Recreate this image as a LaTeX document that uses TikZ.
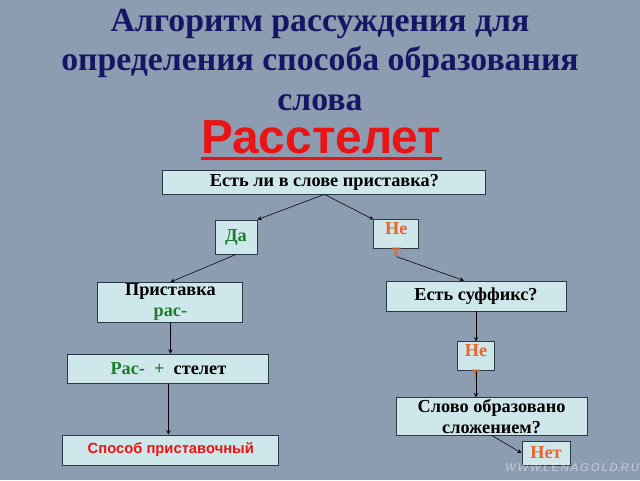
\documentclass[tikz,border=0pt]{standalone}
\usepackage{fontspec}
\setmainfont{Liberation Serif}
\setsansfont{Liberation Sans}
\usetikzlibrary{positioning}
\definecolor{bg}{RGB}{140,157,177}
\definecolor{boxfill}{RGB}{205,231,234}
\definecolor{boxline}{RGB}{45,55,65}
\definecolor{navy}{RGB}{22,22,100}
\definecolor{dagreen}{RGB}{30,125,45}
\definecolor{netorange}{RGB}{235,100,40}
\definecolor{wordred}{RGB}{235,20,20}
\tikzset{
  box/.style={draw=boxline,fill=boxfill,line width=0.6pt,inner sep=1pt,align=center,
    font=\bfseries\fontsize{13}{15}\selectfont},
  answer/.style={box,text=netorange},
}
\begin{document}
\begin{tikzpicture}[>=stealth]
  \useasboundingbox (0,0) rectangle (16,12);
  \fill[bg] (0,0) rectangle (16,12);

  \node [text=navy,align=center,font=\bfseries\fontsize{24}{28}\selectfont] (title) at (8,10.5)
    {Алгоритм рассуждения для\\определения способа образования\\слова};
  \node [text=wordred,inner sep=0pt,font=\sffamily\bfseries\fontsize{34}{38}\selectfont] (word) at (8.03,8.58) {Расстелет};
  \draw[wordred,line width=2pt] ([yshift=-4pt]word.base west) -- ([yshift=-4pt]word.base east);

  \node [box,minimum width=8.075cm,minimum height=0.6cm] (q1) at (8.11,7.45) {Есть ли в слове приставка?};
  \node [box,text=dagreen,minimum width=1.05cm,minimum height=0.85cm] (da) at (5.9,6.075) {Да};
  \node [box,minimum width=1.125cm,minimum height=0.725cm] (net1) at (9.91,6.14) {};
  \node [anchor=north,inner sep=0pt,align=center,text=netorange,
    font=\bfseries\fontsize{13}{15.5}\selectfont] (net1t) at ([yshift=-2pt]net1.north) {Не\\т};

  \node [box,minimum width=3.625cm,minimum height=0.875cm] (pr) at (4.26,4.44)
    {Приставка\\\textcolor{dagreen}{рас-}};
  \node [box,minimum width=4.5cm,minimum height=0.75cm] (suf) at (11.9,4.6) {Есть суффикс?};

  \node [box,minimum width=5.025cm,minimum height=0.725cm,below=0.775cm of pr,xshift=-0.05cm] (ras)
    {\textcolor{dagreen}{Рас-\ \ +}\ \ стелет};
  \node [box,minimum width=0.925cm,minimum height=0.725cm,below=0.75cm of suf] (net2) {};
  \node [anchor=north,inner sep=0pt,align=center,text=netorange,
    font=\bfseries\fontsize{13}{15.5}\selectfont] (net2t) at ([yshift=-2pt]net2.north) {Не\\т};

  \node [box,text=wordred,font=\sffamily\bfseries\fontsize{10.5}{12}\selectfont,
    minimum width=5.4cm,minimum height=0.75cm,below=1.275cm of ras,xshift=0.06cm] (sposob) {Способ приставочный};
  \node [box,minimum width=4.775cm,minimum height=0.875cm,below=0.65cm of net2,xshift=0.39cm] (slovo)
    {Слово образовано\\сложением?};
  \node [answer,minimum width=1.2cm,minimum height=0.6cm] (net3) at (13.65,0.675) {Нет};

  \node [text=white,opacity=0.5,inner sep=0pt,font=\sffamily\itshape\fontsize{8}{10}\selectfont] (mark) at (14.3,0.3)
    {W\,W\,W.L\,E\,N\,A\,G\,O\,L\,D.R\,U};

  \draw[->] (q1.south) -- (da.north east);
  \draw[->] (q1.south) -- (net1.north west);
  \draw[->] (da.south) -- (pr.north);
  \draw[->] (net1t.south) -- ([xshift=-0.3cm]suf.north);
  \draw[->] (pr.south) -- (pr.south |- ras.north);
  \draw[->] (ras.south) -- (ras.south |- sposob.north);
  \draw[->] (suf.south) -- (suf.south |- net2.north);
  \draw[->] (net2.south) -- (net2.south |- slovo.north);
  \draw[->] (slovo.south) -- (net3.west);
\end{tikzpicture}
\end{document}
